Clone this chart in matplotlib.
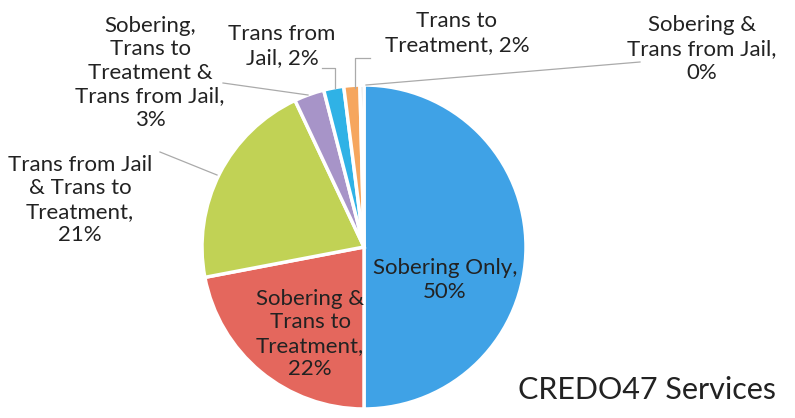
import matplotlib.pyplot as plt

plt.rcParams['font.family'] = ['Lato', 'DejaVu Sans']

services = ["Sobering Only", "Sobering &\nTrans to\nTreatment", "Trans from Jail\n& Trans to\nTreatment",
            "Sobering,\nTrans to\nTreatment &\nTrans from Jail", "Trans from\nJail", "Trans to\nTreatment",
            "Sobering &\nTrans from Jail"]
shares = [50, 22, 21, 3, 2, 1.6, 0.4]
shown_pct = [50, 22, 21, 3, 2, 2, 0]
colors = ["#3fa2e6", "#e4675d", "#c1d255", "#a794c8", "#2fb2e6", "#f6a65e", "#cfcfcf"]

fig = plt.figure(figsize=(7.95, 4.18), dpi=100)
ax = fig.add_axes([0, 0, 1, 1])

cx, cy, r = 364, 171, 162
ax.pie(shares, colors=colors, startangle=90, counterclock=False,
       center=(cx, cy), radius=r, frame=True,
       wedgeprops=dict(edgecolor='white', linewidth=2.5))
ax.set_xlim(0, 795)
ax.set_ylim(0, 418)
ax.set_aspect('equal')
ax.axis('off')

fs = 16
lab = [f"{s},\n{p}%" for s, p in zip(services, shown_pct)]
lab[4] = f"Trans from\nJail, {shown_pct[4]}%"
lab[5] = f"Trans to\nTreatment, {shown_pct[5]}%"
lab[6] = f"Sobering &\nTrans from Jail,\n{shown_pct[6]}%"

def txt(x, y, s):
    ax.text(x, y, s, ha='center', va='center', fontsize=fs, color='#222222', linespacing=1.22)

txt(445, 138, lab[0])
txt(310, 84, lab[1])
txt(80, 218, lab[2])
txt(150, 345, lab[3])
txt(282, 372, lab[4])
txt(457, 385, lab[5])
txt(702, 369, lab[6])

lc = dict(color='#aaaaaa', lw=0.9)
ax.plot([160, 217], [266, 243], **lc)
ax.plot([223, 308], [335, 323], **lc)
ax.plot([322, 335, 335], [350, 350, 330], **lc)
ax.plot([370, 355, 355], [360, 360, 330], **lc)
ax.plot([640, 366], [356, 333], **lc)

ax.text(776, 28, "CREDO47 Services", ha='right', va='center', fontsize=22, color='#222222')

fig.savefig("out.png", dpi=100)
